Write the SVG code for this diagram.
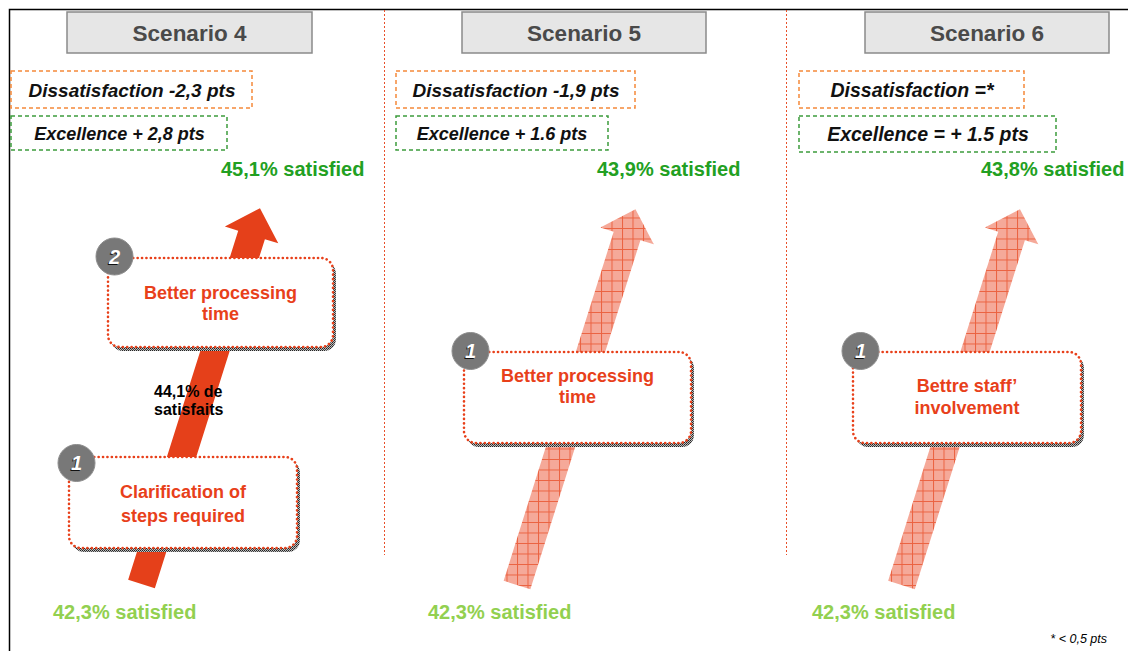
<svg xmlns="http://www.w3.org/2000/svg" xmlns:xlink="http://www.w3.org/1999/xlink" width="1128" height="651" viewBox="0 0 1128 651">
<style>
.hdr{fill:#e6e6e6;stroke:#8a8a8a;stroke-width:1.5}
.hdrt{font-family:"Liberation Sans",Arial,sans-serif;font-weight:bold;font-size:22.5px;fill:#4a4a4a;text-anchor:middle}
.dis{fill:none;stroke:#f5893a;stroke-width:1.5;stroke-dasharray:4 3}
.exc{fill:none;stroke:#3c9c3c;stroke-width:1.5;stroke-dasharray:4 3}
.kpi{font-family:"Liberation Sans",Arial,sans-serif;font-weight:bold;font-style:italic;fill:#111;text-anchor:middle}
.top{font-family:"Liberation Sans",Arial,sans-serif;font-weight:bold;font-size:20px;fill:#22a022}
.bot{font-family:"Liberation Sans",Arial,sans-serif;font-weight:bold;font-size:20px;fill:#92d050}
.sep{stroke:#e8502a;stroke-width:1;stroke-dasharray:2 2;fill:none}
.box{fill:#fff;stroke:#e8401a;stroke-width:2.6;stroke-dasharray:0.1 4.3;stroke-linecap:round}
.shd{fill:url(#shadowPat)}
.bt{font-family:"Liberation Sans",Arial,sans-serif;font-weight:bold;font-size:18px;fill:#e8401a;text-anchor:middle}
.badge{fill:#787878;stroke:#8c8c8c;stroke-width:1}
.num{font-family:"Liberation Sans",Arial,sans-serif;font-weight:bold;font-style:italic;font-size:20px;text-anchor:middle}
</style>
<defs>
<pattern id="shadowPat" patternUnits="userSpaceOnUse" width="2" height="2">
<rect width="2" height="2" fill="#bdbdbd"/>
<rect width="1" height="1" fill="#222"/>
<rect x="1" y="1" width="1" height="1" fill="#444"/>
</pattern>
<pattern id="gridPat" patternUnits="userSpaceOnUse" width="10.5" height="10.5">
<rect width="10.5" height="10.5" fill="#f5a999"/>
<path d="M0 0.5H10.5M0.5 0V10.5" stroke="#e8502a" stroke-opacity="0.8" stroke-width="1" fill="none"/>
</pattern>
<polygon id="arrowShape" points="-13.35,-4.21 13.35,4.21 123.41,-344.84 136.76,-340.63 118.48,-375.76 83.36,-357.47 96.71,-353.26"/>
</defs>
<rect width="1128" height="651" fill="#fff"/>
<g id="frame">
<path d="M9.5 651V9.5H1128" fill="none" stroke="#000" stroke-width="1.5"/>
<line class="sep" x1="384.5" y1="10" x2="384.5" y2="555"/>
<line class="sep" x1="786.5" y1="10" x2="786.5" y2="555"/>
</g>
<g id="connectors">
<use xlink:href="#arrowShape" href="#arrowShape" transform="translate(141.5,584)" fill="#e5401a"/>
<use xlink:href="#arrowShape" href="#arrowShape" transform="translate(517,585)" fill="url(#gridPat)"/>
<use xlink:href="#arrowShape" href="#arrowShape" transform="translate(901.5,585)" fill="url(#gridPat)"/>
</g>
<g id="scenario4">
<g id="s4-header"><rect class="hdr" x="67" y="12" width="245" height="41"/><text class="hdrt" x="189.5" y="41">Scenario 4</text></g>
<g id="s4-dissat"><rect class="dis" x="11" y="71" width="241" height="37"/><text class="kpi" x="132" y="97" font-size="19">Dissatisfaction -2,3 pts</text></g>
<g id="s4-excel"><rect class="exc" x="11" y="116" width="216" height="34"/><text class="kpi" x="119.5" y="140" font-size="18">Excellence + 2,8 pts</text></g>
<text class="top" x="221" y="176">45,1% satisfied</text>
<g id="s4-step1">
<rect class="shd" x="72" y="461" width="228" height="91" rx="12"/>
<rect class="box" x="69" y="457" width="228" height="91" rx="12"/>
<circle class="badge" cx="76.5" cy="463" r="18.5"/>
<text class="num" x="75.5" y="471" fill="#111">1</text>
<text class="num" x="76.5" y="470" fill="#fff">1</text>
<text class="bt" x="183" y="498" font-size="20">Clarification of</text>
<text class="bt" x="183" y="522" font-size="20">steps required</text>
</g>
<g id="s4-step2">
<rect class="shd" x="111" y="262" width="225" height="89" rx="12"/>
<rect class="box" x="108" y="258" width="225" height="89" rx="12"/>
<circle class="badge" cx="114.5" cy="256.5" r="18.5"/>
<text class="num" x="113.5" y="264.5" fill="#111">2</text>
<text class="num" x="114.5" y="263.5" fill="#fff">2</text>
<text class="bt" x="220.5" y="299">Better processing</text>
<text class="bt" x="220.5" y="320">time</text>
</g>
<g id="s4-mid" font-family="Liberation Sans, Arial, sans-serif" font-weight="bold" font-size="16" fill="#000">
<text x="154" y="397">44,1% de</text>
<text x="154" y="415">satisfaits</text>
</g>
<text class="bot" x="53" y="619">42,3% satisfied</text>
</g>
<g id="scenario5">
<g id="s5-header"><rect class="hdr" x="462" y="12" width="244" height="41"/><text class="hdrt" x="584" y="41">Scenario 5</text></g>
<g id="s5-dissat"><rect class="dis" x="396" y="71" width="239" height="37"/><text class="kpi" x="516" y="97" font-size="19">Dissatisfaction -1,9 pts</text></g>
<g id="s5-excel"><rect class="exc" x="396" y="116" width="212" height="34"/><text class="kpi" x="502" y="140" font-size="18">Excellence + 1.6 pts</text></g>
<text class="top" x="597" y="176">43,9% satisfied</text>
<g id="s5-step1">
<rect class="shd" x="467" y="356" width="227" height="91" rx="12"/>
<rect class="box" x="464" y="352" width="227" height="91" rx="12"/>
<circle class="badge" cx="470.5" cy="351" r="18.5"/>
<text class="num" x="469.5" y="359" fill="#111">1</text>
<text class="num" x="470.5" y="358" fill="#fff">1</text>
<text class="bt" x="577.5" y="382">Better processing</text>
<text class="bt" x="577.5" y="403">time</text>
</g>
<text class="bot" x="428" y="619">42,3% satisfied</text>
</g>
<g id="scenario6">
<g id="s6-header"><rect class="hdr" x="865" y="12" width="244" height="41"/><text class="hdrt" x="987" y="41">Scenario 6</text></g>
<g id="s6-dissat"><rect class="dis" x="799" y="71" width="225" height="37"/><text class="kpi" x="912" y="97" font-size="19.5">Dissatisfaction =*</text></g>
<g id="s6-excel"><rect class="exc" x="799" y="116" width="257" height="36"/><text class="kpi" x="928" y="141" font-size="19.5">Excellence = + 1.5 pts</text></g>
<text class="top" x="981" y="176">43,8% satisfied</text>
<g id="s6-step1">
<rect class="shd" x="856" y="356" width="228" height="91" rx="12"/>
<rect class="box" x="853" y="352" width="228" height="91" rx="12"/>
<circle class="badge" cx="860.5" cy="351" r="18.5"/>
<text class="num" x="859.5" y="359" fill="#111">1</text>
<text class="num" x="860.5" y="358" fill="#fff">1</text>
<text class="bt" x="967" y="392">Bettre staff’</text>
<text class="bt" x="967" y="414">involvement</text>
</g>
<text class="bot" x="812" y="619">42,3% satisfied</text>
<text x="1107" y="643" font-family="Liberation Sans, Arial, sans-serif" font-style="italic" font-size="12.5" fill="#000" text-anchor="end">* &lt; 0,5 pts</text>
</g>
</svg>
